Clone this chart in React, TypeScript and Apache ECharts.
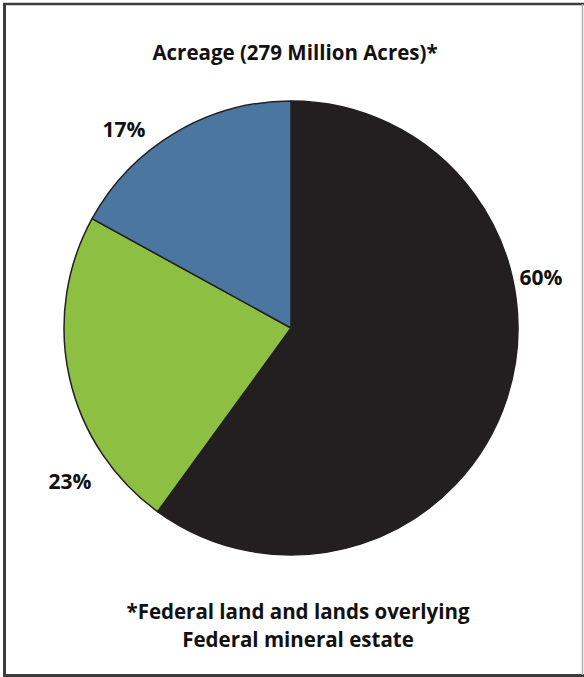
import React, { useEffect, useRef } from "react";
import * as echarts from "echarts";

const categories = ["Federal (60%)", "Green share", "Blue share"];
const shares = [60, 23, 17];
const sliceColors = ["#231f20", "#8dbf43", "#4a76a0"];
const labelTexts = ["60%", "23%", "17%"];
const titleText = "Acreage (279 Million Acres)*";
const footLines = ["*Federal land and lands overlying", "Federal mineral estate"];

const labelPos = [
  [541, 277],
  [70, 481],
  [124, 129],
];

export default function App() {
  const ref = useRef<HTMLDivElement>(null);
  useEffect(() => {
    document.body.style.margin = "0";
    const chart = echarts.init(ref.current!, null, { renderer: "svg" });
    const font = "'Open Sans', sans-serif";
    chart.setOption({
      animation: false,
      backgroundColor: "#ffffff",
      graphic: [
        { type: "line", shape: { x1: 4.5, y1: 3, x2: 4.5, y2: 677 }, style: { stroke: "#3c3c3c", lineWidth: 3 } },
        { type: "line", shape: { x1: 3, y1: 4, x2: 584, y2: 4 }, style: { stroke: "#3c3c3c", lineWidth: 2.5 } },
        { type: "line", shape: { x1: 3, y1: 675.5, x2: 584, y2: 675.5 }, style: { stroke: "#3c3c3c", lineWidth: 3 } },
        { type: "line", shape: { x1: 582.5, y1: 4, x2: 582.5, y2: 675 }, style: { stroke: "#b0b0b0", lineWidth: 1.5 } },
        {
          type: "text",
          x: 295,
          y: 52,
          style: {
            text: titleText,
            fontFamily: font,
            fontWeight: "bold",
            fontSize: 20.5,
            fill: "#111",
            align: "center",
            verticalAlign: "middle",
          },
        },
        ...footLines.map((t, i) => ({
          type: "text",
          x: 298,
          y: 611 + i * 28,
          style: {
            text: t,
            fontFamily: font,
            fontWeight: "bold",
            fontSize: 20.5,
            fill: "#111",
            align: "center",
            verticalAlign: "middle",
          },
        })),
      ],
      series: [
        {
          type: "pie",
          center: [291, 328],
          radius: [0, 227],
          startAngle: 90,
          clockwise: true,
          silent: true,
          avoidLabelOverlap: false,
          data: categories.map((c, i) => ({
            name: c,
            value: shares[i],
            itemStyle: { color: sliceColors[i] },
            label: { formatter: labelTexts[i] },
          })),
          itemStyle: { borderColor: "#231f20", borderWidth: 1.5 },
          label: {
            show: true,
            position: "outside",
            overflow: "none",
            fontFamily: font,
            fontWeight: "bold",
            fontSize: 21,
            color: "#111",
          },
          labelLine: { show: false },
          labelLayout: (p: any) => ({
            x: labelPos[p.dataIndex][0],
            y: labelPos[p.dataIndex][1],
            align: "center",
            verticalAlign: "middle",
            hideOverlap: false,
          }),
        },
      ],
    });
    return () => chart.dispose();
  }, []);
  return <div ref={ref} style={{ width: 584, height: 677 }} />;
}
